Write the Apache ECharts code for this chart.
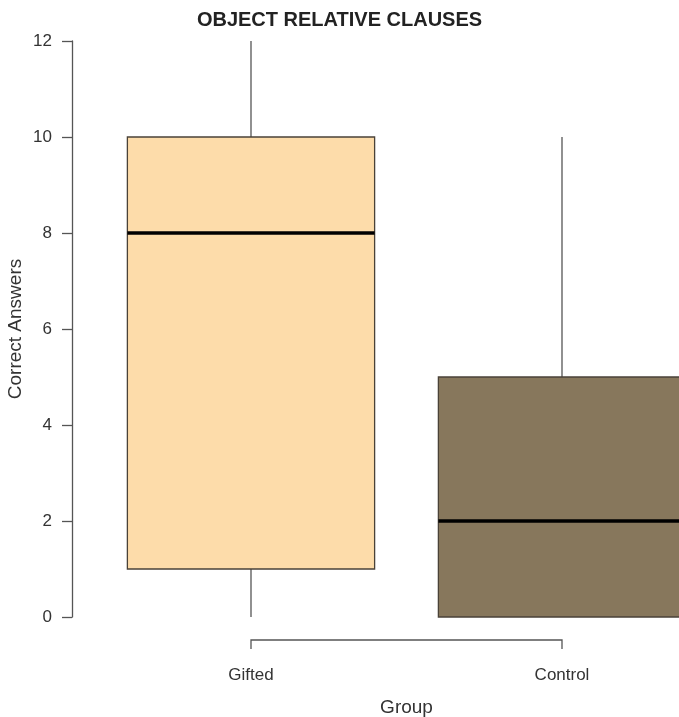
<!DOCTYPE html>
<html lang="en">
<head>
    <meta charset="UTF-8">
    <title>Object Relative Clauses</title>
    <script type="text/javascript" src="https://cdn.jsdelivr.net/npm/echarts@6/dist/echarts.min.js"></script>
</head>
<body style="margin:0">
<div id="chart" style="width: 679px;height: 717px"></div>
</body>
</html>
<script type="text/javascript">
    var groups = ['Gifted', 'Control'];
    // min, q1, median, q3, max
    var giftedStats = [0, 1, 8, 10, 12];
    var controlStats = [0, 0, 2, 5, 10];
    var fills = ['#FDDCAA', '#87775C'];
    var yTicks = [0, 2, 4, 6, 8, 10, 12];

    var boxData = [[0].concat(giftedStats), [1].concat(controlStats)];

    function renderBox(params, api) {
        var i = api.value(0);
        var pMin = api.coord([i, api.value(1)]);
        var pQ1 = api.coord([i, api.value(2)]);
        var pMed = api.coord([i, api.value(3)]);
        var pQ3 = api.coord([i, api.value(4)]);
        var pMax = api.coord([i, api.value(5)]);
        var w = api.size([1, 0])[0] * 0.795;
        var x0 = pQ1[0] - w / 2;
        return {
            type: 'group',
            children: [
                {type: 'line', shape: {x1: pMin[0], y1: pMin[1], x2: pQ1[0], y2: pQ1[1]},
                    style: {stroke: '#555', lineWidth: 1.3}},
                {type: 'line', shape: {x1: pQ3[0], y1: pQ3[1], x2: pMax[0], y2: pMax[1]},
                    style: {stroke: '#555', lineWidth: 1.3}},
                {type: 'rect', shape: {x: x0, y: pQ3[1], width: w, height: pQ1[1] - pQ3[1]},
                    style: {fill: fills[i], stroke: '#4a4238', lineWidth: 1.3}},
                {type: 'line', shape: {x1: x0, y1: pMed[1], x2: x0 + w, y2: pMed[1]},
                    style: {stroke: '#000', lineWidth: 3.5}}
            ]
        };
    }

    function renderBracket(params, api) {
        var a = api.coord([api.value(0), 0]);
        var b = api.coord([api.value(1), 0]);
        var y = a[1] + 23;
        return {
            type: 'polyline',
            shape: {points: [[a[0], y + 9], [a[0], y], [b[0], y], [b[0], y + 9]]},
            style: {stroke: '#555', lineWidth: 1.3, fill: null}
        };
    }

    var myChart = echarts.init(document.getElementById('chart'));
    var option = {
        animation: false,
        textStyle: {fontFamily: 'Liberation Sans'},
        title: {
            text: 'OBJECT RELATIVE CLAUSES',
            left: 'center',
            top: 5,
            textStyle: {fontSize: 20, fontWeight: 'bold', color: '#222', fontFamily: 'Liberation Sans'}
        },
        grid: {left: 95.5, right: -38.5, top: 41, bottom: 100, containLabel: false, outerBoundsMode: 'none'},
        xAxis: {
            type: 'category',
            data: groups,
            axisLine: {show: false},
            axisTick: {show: false},
            axisLabel: {margin: 50, fontSize: 17, color: '#333'},
            name: 'Group',
            nameLocation: 'middle',
            nameGap: 81,
            nameMoveOverlap: false,
            nameTextStyle: {fontSize: 19, color: '#333'}
        },
        yAxis: {
            type: 'value',
            min: 0,
            max: 12,
            interval: 2,
            offset: 23.5,
            splitLine: {show: false},
            axisLine: {show: true, lineStyle: {color: '#555', width: 1.3}},
            axisTick: {show: true, length: 10, lineStyle: {color: '#555', width: 1.3}},
            axisLabel: {
                fontSize: 17, color: '#333', margin: 20,
                formatter: function (v) { return yTicks.indexOf(v) >= 0 ? String(v) : ''; }
            },
            name: 'Correct Answers',
            nameLocation: 'middle',
            nameGap: 47,
            nameMoveOverlap: false,
            nameTextStyle: {fontSize: 19, color: '#333'}
        },
        series: [
            {type: 'custom', renderItem: renderBox, data: boxData, encode: {x: 0, y: [1, 2, 3, 4, 5]}, clip: false},
            {type: 'custom', renderItem: renderBracket, data: [[0, 1]], encode: {x: [0, 1]}, clip: false, silent: true}
        ]
    };
    myChart.setOption(option);
</script>
